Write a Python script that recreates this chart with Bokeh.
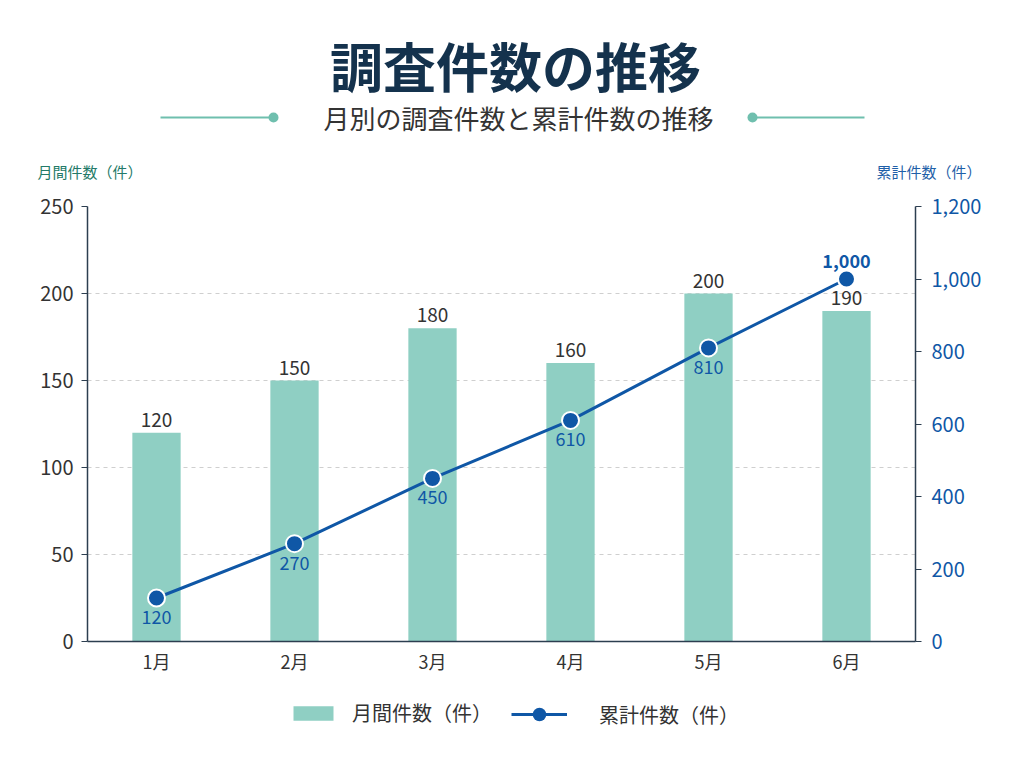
from bokeh.plotting import figure
from bokeh.layouts import column
from bokeh.models import (ColumnDataSource, Range1d, LinearAxis, FixedTicker, NumeralTickFormatter,
                          Legend, LegendItem, FactorRange)
from bokeh.embed import file_html
from bokeh.resources import INLINE
from bokeh.core.properties import value

months = ["1月", "2月", "3月", "4月", "5月", "6月"]
monthly = [120, 150, 180, 160, 200, 190]
cumulative = [120, 270, 450, 610, 810, 1000]
left_ticks = [0, 50, 100, 150, 200, 250]
right_ticks = [0, 200, 400, 600, 800, 1000, 1200]

title_text = "調査件数の推移"
subtitle_text = "月別の調査件数と累計件数の推移"
left_axis_title = "月間件数（件）"
right_axis_title = "累計件数（件）"
bar_legend = "月間件数（件）"
line_legend = "累計件数（件）"

FONT = "Noto Sans CJK JP"
TEAL = "#8fcfc3"
BLUE = "#0f57a6"
NAVY = "#14324d"
AXIS = "#2c3e50"
TXT = "#333333"
DECO = "#6fbfae"

W = 1016
HEAD_H = 185
MAIN_BOTTOM = 690
FOOT_H = 760 - MAIN_BOTTOM

# ---------------- header (title, subtitle, axis titles) ----------------
h = figure(width=W, height=HEAD_H, x_range=Range1d(0, W), y_range=Range1d(HEAD_H, 0),
           output_backend="svg", toolbar_location=None, x_axis_type=None, y_axis_type=None,
           min_border=0, min_border_left=0, min_border_right=0, min_border_top=0,
           min_border_bottom=0)
h.frame_align = False
h.outline_line_color = None
h.grid.grid_line_color = None

h.text(x=[515], y=[64], text=[title_text], text_align="center", text_baseline="middle",
       text_font=value(FONT), text_font_size="53px", text_font_style="bold", text_color=NAVY)
h.text(x=[518], y=[117], text=[subtitle_text], text_align="center", text_baseline="middle",
       text_font=value(FONT), text_font_size="26px", text_color=TXT)
h.segment(x0=[160, 752], y0=[117, 117], x1=[272, 864], y1=[117, 117], line_color=DECO, line_width=2)
h.scatter(x=[273, 752], y=[117, 117], size=10, fill_color=DECO, line_color=None)
h.text(x=[37], y=[171], text=[left_axis_title], text_align="left", text_baseline="middle",
       text_font=value(FONT), text_font_size="15px", text_color="#237a68")
h.text(x=[981], y=[171], text=[right_axis_title], text_align="right", text_baseline="middle",
       text_font=value(FONT), text_font_size="15px", text_color="#1f5fa8")

# ---------------- main chart ----------------
MAIN_H = MAIN_BOTTOM - HEAD_H
p = figure(width=W, height=MAIN_H, x_range=FactorRange(*months), y_range=Range1d(0, 250),
           output_backend="svg", toolbar_location=None,
           min_border_left=87, min_border_right=W - 915, min_border_top=206 - HEAD_H,
           min_border_bottom=MAIN_BOTTOM - 641)
p.frame_align = False
p.outline_line_color = None
p.extra_y_ranges = {"cum": Range1d(0, 1200)}

src = ColumnDataSource(dict(m=months, v=monthly, c=cumulative,
                            vl=[str(v) for v in monthly]))

p.vbar(x="m", top="v", width=0.35, source=src, fill_color=TEAL, line_color=None)
p.line(x="m", y="c", source=src, y_range_name="cum", line_color=BLUE, line_width=3)
p.scatter(x="m", y="c", source=src, y_range_name="cum", size=17, fill_color=BLUE,
          line_color="white", line_width=2)

p.text(x="m", y="v", text="vl", source=src, text_align="center", text_baseline="bottom",
       y_offset=-6, text_font=value(FONT), text_font_size="19px", text_color=TXT)

# cumulative labels: below the points, the last one above (to clear its bar label)
n = len(months)
src_below = ColumnDataSource(dict(m=months[:n - 1], c=cumulative[:n - 1],
                                  cl=[f"{c:,}" for c in cumulative[:n - 1]]))
src_above = ColumnDataSource(dict(m=months[n - 1:], c=cumulative[n - 1:],
                                  cl=[f"{c:,}" for c in cumulative[n - 1:]]))
p.text(x="m", y="c", text="cl", source=src_below, y_range_name="cum", text_align="center",
       text_baseline="top", y_offset=12, text_font=value(FONT), text_font_size="18px",
       text_color=BLUE)
p.text(x="m", y="c", text="cl", source=src_above, y_range_name="cum", text_align="center",
       text_baseline="bottom", y_offset=-11, text_font=value(FONT), text_font_size="18px",
       text_font_style="bold", text_color=BLUE)

p.yaxis.ticker = FixedTicker(ticks=left_ticks)
p.yaxis.major_label_text_font = FONT
p.yaxis.major_label_text_font_size = "20px"
p.yaxis.major_label_text_color = TXT
p.yaxis.axis_line_color = AXIS
p.yaxis.axis_line_width = 1.5
p.yaxis.major_tick_line_color = AXIS
p.yaxis.major_tick_out = 6
p.yaxis.major_tick_in = 0
p.yaxis.minor_tick_line_color = None
p.yaxis.major_label_standoff = 8

p.xaxis.major_label_text_font = FONT
p.xaxis.major_label_text_font_size = "18px"
p.xaxis.major_label_text_color = TXT
p.xaxis.axis_line_color = AXIS
p.xaxis.axis_line_width = 1.5
p.xaxis.major_tick_line_color = None
p.xaxis.minor_tick_line_color = None
p.xaxis.major_label_standoff = 0

ra = LinearAxis(y_range_name="cum", ticker=FixedTicker(ticks=right_ticks),
                formatter=NumeralTickFormatter(format="0,0"))
ra.major_label_text_font = FONT
ra.major_label_text_font_size = "20px"
ra.major_label_text_color = BLUE
ra.axis_line_color = AXIS
ra.axis_line_width = 1.5
ra.major_tick_line_color = AXIS
ra.major_tick_out = 6
ra.major_tick_in = 0
ra.minor_tick_line_color = None
ra.major_label_standoff = 10
p.add_layout(ra, "right")

p.xgrid.grid_line_color = None
p.ygrid.grid_line_color = "#cfcfcf"
p.ygrid.grid_line_dash = "4 4"
p.ygrid.grid_line_width = 1

# ---------------- footer legend ----------------
f = figure(width=W, height=FOOT_H, x_range=Range1d(0, 1), y_range=Range1d(0, 1),
           output_backend="svg", toolbar_location=None, x_axis_type=None, y_axis_type=None,
           min_border=0, min_border_left=0, min_border_right=0, min_border_top=0,
           min_border_bottom=0)
f.frame_align = False
f.outline_line_color = None
f.grid.grid_line_color = None
# legend-only renderers (a single NaN point: nothing is drawn in the frame)
proxy = ColumnDataSource(dict(x=[float("nan")], y=[float("nan")]))
lb = f.vbar(x="x", top="y", width=1, source=proxy, fill_color=TEAL, line_color=None)
ll = f.line(x="x", y="y", source=proxy, line_color=BLUE, line_width=3)
lp = f.scatter(x="x", y="y", source=proxy, size=15, fill_color=BLUE, line_color=None)

common = dict(orientation="horizontal", padding=0, margin=0, border_line_color=None,
              background_fill_alpha=0, label_text_font=FONT, label_text_font_size="20px",
              label_text_color=TXT)
legend1 = Legend(items=[LegendItem(label=bar_legend, renderers=[lb])], location=(288, 33),
                 glyph_width=50, glyph_height=18, label_standoff=14, **common)
legend2 = Legend(items=[LegendItem(label=line_legend, renderers=[ll, lp])], location=(511, 29),
                 glyph_width=56, glyph_height=34, label_standoff=32, **common)
f.add_layout(legend1, "center")
f.add_layout(legend2, "center")

layout = column(h, p, f, spacing=0)
open("out.html", "w").write(file_html(layout, INLINE))
